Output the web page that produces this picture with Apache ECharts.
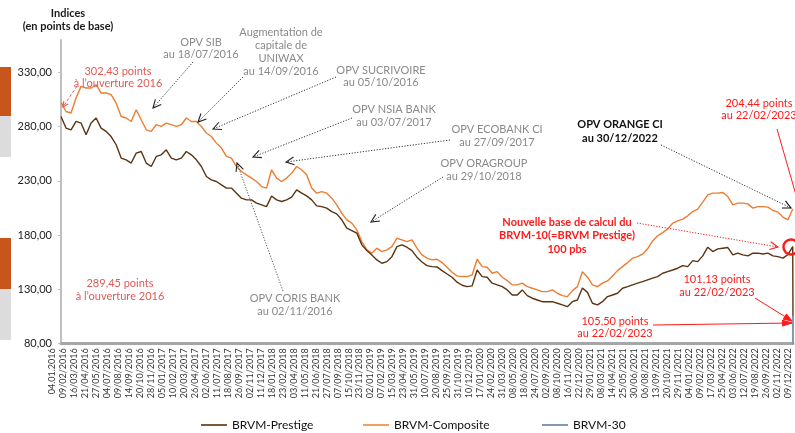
<!DOCTYPE html>
<html><head><meta charset="utf-8">
<script src="https://cdn.jsdelivr.net/npm/echarts@6/dist/echarts.min.js"></script>
<style>html,body{margin:0;padding:0;background:#fff}#c{width:795px;height:433px}</style>
</head><body><div id="c"></div>
<script>
// ---- Data ----
const startDate = '2016-01-04';
const endDate = '2023-02-22';
const tailDates = ['2023-02-21', '2023-02-22'];
const seriesNames = ['BRVM-Prestige', 'BRVM-Composite', 'BRVM-30'];

const composite = [
  302.43, 294.0, 292.6, 306.4, 317.2, 315.7, 315.7, 318.7, 311.1, 311.1,
  309.5, 301.8, 289.4, 288.0, 284.8, 295.6, 286.4, 277.1, 275.6, 281.8,
  280.2, 283.3, 281.8, 280.2, 281.8, 288.0, 284.8, 284.8, 280.2, 274.1,
  270.9, 264.8, 260.2, 252.5, 251.0, 243.2, 238.6, 235.5, 232.5, 229.4,
  224.7, 223.3, 240.2, 232.5, 229.4, 232.5, 237.1, 243.2, 240.2, 235.5,
  223.3, 218.6, 220.1, 218.6, 214.0, 207.8, 200.1, 194.0, 190.9, 184.7,
  173.9, 166.2, 163.2, 167.8, 164.7, 166.2, 169.3, 177.0, 175.5, 173.9,
  175.5, 167.8, 161.6, 158.6, 157.0, 157.6, 154.5, 150.2, 145.6, 142.2,
  141.6, 141.6, 143.1, 157.6, 150.8, 150.2, 144.7, 146.2, 141.0, 137.9,
  133.9, 133.9, 135.5, 132.3, 130.8, 129.3, 127.7, 127.7, 129.3, 126.2,
  124.0, 123.1, 128.6, 132.3, 146.0, 141.0, 133.9, 132.3, 135.5, 137.6,
  142.2, 147.1, 150.8, 154.5, 158.6, 160.0, 162.3, 167.2, 174.5, 179.2,
  182.2, 185.6, 190.9, 193.0, 194.6, 197.7, 201.6, 203.8, 210.3, 217.1,
  218.6, 218.6, 219.2, 215.5, 207.8, 209.4, 209.4, 208.7, 204.8, 206.2,
  206.2, 205.7, 202.6, 201.1, 196.5, 194.0,
  204.0, 204.44
];
const prestige = [
  289.45, 278.7, 277.1, 284.8, 283.3, 272.5, 283.3, 288.0, 278.7, 275.6,
  270.9, 263.3, 251.0, 249.4, 246.4, 255.6, 257.1, 246.4, 243.2, 252.5,
  254.0, 258.6, 251.0, 249.4, 251.0, 257.1, 254.0, 249.4, 243.2, 234.0,
  230.9, 229.4, 226.3, 223.3, 223.3, 218.6, 214.0, 212.4, 212.4, 209.4,
  207.8, 206.2, 216.0, 212.4, 210.9, 212.4, 214.9, 221.7, 218.6, 216.1,
  212.4, 206.9, 206.2, 204.8, 201.6, 199.5, 194.0, 186.3, 184.1, 181.7,
  170.9, 165.6, 161.6, 157.0, 153.9, 155.4, 160.0, 169.3, 170.9, 168.7,
  165.6, 159.5, 155.1, 151.7, 150.8, 150.5, 147.1, 144.0, 141.0, 136.4,
  133.6, 132.3, 133.0, 147.7, 141.6, 141.0, 135.5, 133.9, 132.3, 129.3,
  124.6, 124.6, 129.3, 124.0, 121.6, 120.0, 118.4, 118.4, 118.4, 117.0,
  115.4, 113.8, 118.4, 120.0, 131.0, 127.0, 117.0, 115.4, 118.4, 123.1,
  124.6, 126.2, 130.8, 132.3, 133.9, 135.5, 136.9, 138.5, 140.1, 141.6,
  144.7, 146.2, 147.7, 149.3, 151.7, 150.8, 156.3, 155.4, 160.7, 168.7,
  164.7, 167.2, 167.8, 168.4, 161.6, 163.2, 161.6, 160.7, 163.2, 163.2,
  162.5, 163.2, 160.7, 160.0, 158.6, 162.0,
  169.3, 101.13
];
// BRVM-30 exists only at the end (empty = 0 before the new base)
const brvm30 = [['2023-02-21', 0], ['2023-02-22', 105.50]];

const yTicks = { min: 80, max: 360, interval: 50 };

const xLabels = [
  '04.01.2016','09/02/2016','16/03/2016','21/04/2016','27/05/2016','04/07/2016','09/08/2016','14/09/2016',
  '20/10/2016','28/11/2016','05/01/2017','10/02/2017','20/03/2017','26/04/2017','02/06/2017','11/07/2017',
  '18/08/2017','26/09/2017','02/11/2017','11/12/2017','18/01/2018','23/02/2018','03/04/2018','11/05/2018',
  '21/06/2018','27/07/2018','07/09/2018','15/10/2018','23/11/2018','02/01/2019','07/02/2019','15/03/2019',
  '23/04/2019','31/05/2019','10/07/2019','20/08/2019','25/09/2019','31/10/2019','10/12/2019','17/01/2020',
  '24/02/2020','31/03/2020','08/05/2020','18/06/2020','24/07/2020','02/09/2020','08/10/2020','16/11/2020',
  '22/12/2020','29/01/2021','08/03/2021','14/04/2021','25/05/2021','30/06/2021','06/08/2021','13/09/2021',
  '20/10/2021','29/11/2021','04/01/2022','09/02/2022','17/03/2022','25/04/2022','03/06/2022','12/07/2022',
  '19/08/2022','26/09/2022','02/11/2022','09/12/2022'
];

// ---- sampling grid (regular sampling of the period, then the last two sessions) ----
const t0 = new Date(startDate + 'T00:00:00').getTime();
const t1 = new Date(endDate + 'T00:00:00').getTime();
const nRegular = composite.length - tailDates.length;
const stepMs = (t1 - t0) / nRegular;
const sampleTimes = [];
for (let k = 0; k < nRegular; k++) sampleTimes.push(t0 + k * stepMs);
tailDates.forEach(d => sampleTimes.push(new Date(d + 'T00:00:00').getTime()));
const toPairs = arr => arr.map((v, i) => [sampleTimes[i], v]);
const brvm30Pairs = brvm30.map(p => [new Date(p[0] + 'T00:00:00').getTime(), p[1]]);

// ---- styles ----
const FONT = 'Lato, "Open Sans", sans-serif';
const C_BROWN = '#5a3412', C_ORANGE = '#ed7d31', C_BLUE = '#8497b0';
const GREY = '#8a8a8a', SALMON = '#e05a55', RED = '#ff1a1a';

function txt(lines, cx, cy, lh, color, weight, size) {
  return lines.map((t, i) => ({
    type: 'text', z: 100,
    style: { text: t, x: cx, y: cy + i * lh, fill: color, align: 'center', verticalAlign: 'middle',
      textAlign: 'center', textVerticalAlign: 'middle',
      font: (weight || 'normal') + ' ' + (size || 11) + 'px ' + FONT }
  }));
}
function arrow(x1, y1, x2, y2, o) {
  const color = o.color || '#222';
  const els = [{
    type: 'line', z: 100, silent: true,
    shape: { x1, y1, x2, y2 },
    style: { stroke: o.lineColor || color, lineWidth: o.width || 1, lineDash: o.dash || null }
  }];
  if (o.head) {
    const a = Math.atan2(y2 - y1, x2 - x1), s = o.size || 8, sp = o.spread || 0.45;
    const p1 = [x2 - s * Math.cos(a - sp), y2 - s * Math.sin(a - sp)];
    const p2 = [x2 - s * Math.cos(a + sp), y2 - s * Math.sin(a + sp)];
    if (o.head === 'open') {
      els.push({ type: 'polyline', z: 100, shape: { points: [p1, [x2, y2], p2] },
        style: { stroke: color, lineWidth: 1.1, fill: null } });
    } else {
      els.push({ type: 'polygon', z: 100, shape: { points: [p1, [x2, y2], p2] },
        style: { fill: color, stroke: color, lineWidth: 1 } });
    }
  }
  return els;
}

const dotted = [1.2, 1.6];
let graphics = [];
// page fragments on the left edge
graphics.push(
  { type: 'rect', shape: { x: 0, y: 67, width: 11, height: 49 }, style: { fill: '#c8561c' } },
  { type: 'rect', shape: { x: 0, y: 116, width: 11, height: 41 }, style: { fill: '#dcdcdc' } },
  { type: 'rect', shape: { x: 0, y: 238, width: 11, height: 51 }, style: { fill: '#c8561c' } },
  { type: 'rect', shape: { x: 0, y: 289, width: 11, height: 51 }, style: { fill: '#dcdcdc' } }
);
// axis title
graphics = graphics.concat(txt(['Indices', '(en points de base)'], 68, 13, 13.5, '#1a1a1a', 'bold', 11));
// opening annotations
graphics = graphics.concat(txt(['302,43 points', 'à l\u2019ouverture 2016'], 118, 71, 12.5, SALMON, 'normal', 11));
graphics = graphics.concat(arrow(77, 86, 63, 107, { color: SALMON, dash: [3, 2], head: 'open', size: 6 }));
graphics = graphics.concat(txt(['289,45 points', 'à l\u2019ouverture 2016'], 120, 283, 13, SALMON, 'normal', 11));
// OPV annotations
graphics = graphics.concat(txt(['OPV SIB', 'au 18/07/2016'], 201, 42, 12.5, GREY, 'normal', 11));
graphics = graphics.concat(arrow(193, 62, 153, 108, { color: '#222', lineColor: '#333', dash: dotted, head: 'open', size: 9 }));
graphics = graphics.concat(txt(['Augmentation de', 'capitale de', 'UNIWAX', 'au 14/09/2016'], 281, 32, 13, GREY, 'normal', 11));
graphics = graphics.concat(arrow(243, 77, 198, 122, { color: '#222', lineColor: '#333', dash: dotted, head: 'open', size: 9 }));
graphics = graphics.concat(txt(['OPV SUCRIVOIRE', 'au 05/10/2016'], 381, 70, 12.5, GREY, 'normal', 11));
graphics = graphics.concat(arrow(336, 77, 213, 129, { color: '#222', lineColor: '#333', dash: dotted, head: 'open', size: 9 }));
graphics = graphics.concat(txt(['OPV NSIA BANK', 'au 03/07/2017'], 394, 109, 13.5, GREY, 'normal', 11));
graphics = graphics.concat(arrow(352, 118, 253, 157, { color: '#222', lineColor: '#333', dash: dotted, head: 'open', size: 9 }));
graphics = graphics.concat(txt(['OPV ECOBANK CI', 'au 27/09/2017'], 497, 129, 13, GREY, 'normal', 11));
graphics = graphics.concat(arrow(450, 140, 286, 162, { color: '#222', lineColor: '#333', dash: dotted, head: 'open', size: 9 }));
graphics = graphics.concat(txt(['OPV ORAGROUP', 'au 29/10/2018'], 484, 163, 13, GREY, 'normal', 11));
graphics = graphics.concat(arrow(443, 177, 371, 222, { color: '#222', lineColor: '#333', dash: dotted, head: 'open', size: 9 }));
graphics = graphics.concat(txt(['OPV CORIS BANK', 'au 02/11/2016'], 295, 298, 13, GREY, 'normal', 11));
graphics = graphics.concat(arrow(283, 291, 237, 163, { color: '#222', lineColor: '#555', dash: dotted, head: 'open', size: 9 }));
graphics = graphics.concat(txt(['OPV ORANGE CI', 'au 30/12/2022'], 620, 124, 14, '#111', 'bold', 11));
graphics = graphics.concat(arrow(661, 145, 791, 208, { color: '#111', lineColor: '#333', dash: dotted, head: 'open', size: 9 }));
// red annotations
graphics = graphics.concat(txt(['204,44 points', 'au 22/02/2023'], 759, 103, 12.5, RED, 'normal', 11));
graphics = graphics.concat(arrow(777, 129, 798, 202, { color: RED }));
graphics = graphics.concat(txt(['Nouvelle base de calcul du', 'BRVM-10(=BRVM Prestige)', '100 pbs'], 567, 222, 13.5, RED, 'bold', 11));
graphics = graphics.concat(arrow(637, 223, 778, 247, { color: RED, dash: dotted, head: 'open', size: 9 }));
graphics.push({ type: 'circle', z: 100, shape: { cx: 791, cy: 247, r: 7.5 }, style: { fill: null, stroke: RED, lineWidth: 2.5 } });
graphics = graphics.concat(txt(['101,13 points', 'au 22/02/2023'], 717, 279, 13.5, RED, 'normal', 11));
graphics = graphics.concat(arrow(755, 298, 792, 321, { color: RED, head: 'fill', size: 9, spread: 0.35 }));
graphics = graphics.concat(txt(['105,50 points', 'au 22/02/2023'], 615, 321, 12.5, RED, 'normal', 11));
graphics = graphics.concat(arrow(653, 325, 792, 323, { color: RED, width: 1.2, head: 'fill', size: 10, spread: 0.3 }));

const legendLeft = [196, 358, 537];
const legends = seriesNames.map((n, i) => ({
  left: legendLeft[i], top: 414, itemWidth: 26, itemHeight: 2, icon: 'rect',
  textStyle: { fontSize: 12, color: '#111', fontFamily: FONT }, data: [n]
}));

const chart = echarts.init(document.getElementById('c'), null, { renderer: 'canvas' });
chart.setOption({
  animation: false,
  backgroundColor: '#fff',
  textStyle: { fontFamily: FONT },
  grid: [
    { left: 61, right: 2, top: 40, bottom: 89.7, containLabel: false },
    { left: 52, right: 7, top: 40, bottom: 89.7, containLabel: false }
  ],
  legend: legends,
  xAxis: [
    { type: 'time', gridIndex: 0, min: t0, max: t1,
      axisLine: { show: true, lineStyle: { color: '#a6a6a6', width: 3 } },
      axisTick: { show: false }, axisLabel: { show: false }, splitLine: { show: false } },
    { type: 'category', gridIndex: 1, data: xLabels, boundaryGap: false,
      axisLine: { show: false }, axisTick: { show: false }, splitLine: { show: false },
      axisLabel: { rotate: 90, interval: 0, fontSize: 9, color: '#333', margin: 5, fontFamily: FONT } }
  ],
  yAxis: [
    { type: 'value', gridIndex: 0, min: yTicks.min, max: yTicks.max, interval: yTicks.interval,
      splitLine: { show: false },
      axisLine: { show: true, lineStyle: { color: '#bfbfbf', width: 2 } },
      axisTick: { show: true, length: 3, lineStyle: { color: '#bfbfbf' } },
      axisLabel: { showMaxLabel: false, fontSize: 11, color: '#222', margin: 9, fontFamily: FONT,
        formatter: v => v.toFixed(2).replace('.', ',') } },
    { type: 'value', gridIndex: 1, min: yTicks.min, max: yTicks.max, show: false }
  ],
  series: [
    { name: seriesNames[0], type: 'line', xAxisIndex: 0, yAxisIndex: 0, data: toPairs(prestige),
      symbol: 'none', z: 3, lineStyle: { color: C_BROWN, width: 1.4 }, itemStyle: { color: '#7a5a3c' } },
    { name: seriesNames[1], type: 'line', xAxisIndex: 0, yAxisIndex: 0, data: toPairs(composite),
      symbol: 'none', z: 2, lineStyle: { color: C_ORANGE, width: 1.4 }, itemStyle: { color: '#f0a060' } },
    { name: seriesNames[2], type: 'line', xAxisIndex: 0, yAxisIndex: 0, data: brvm30Pairs,
      symbol: 'none', z: 4, clip: true, lineStyle: { color: C_BLUE, width: 2 }, itemStyle: { color: C_BLUE } }
  ],
  graphic: graphics
});
</script></body></html>
